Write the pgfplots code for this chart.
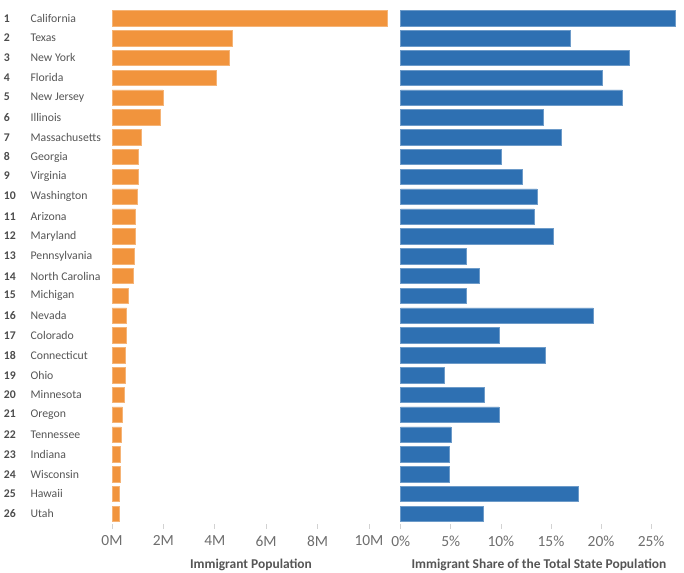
\documentclass[border=0pt]{standalone}
\usepackage{fontspec}
\setmainfont{Carlito}
\usepackage{pgfplots}
\pgfplotsset{compat=1.18}
\usepackage{pgfplotstable}
\definecolor{barorange}{RGB}{241,148,61}
\definecolor{barblue}{RGB}{46,112,178}
\definecolor{txtgray}{RGB}{85,85,85}
\definecolor{tickgray}{RGB}{110,110,110}

\pgfplotstableread{
rank pop share
1 10.70 27.4
2 4.67 16.9
3 4.55 22.8
4 4.07 20.1
5 1.98 22.1
6 1.86 14.2
7 1.13 16.0
8 1.04 10.0
9 1.04 12.1
10 1.00 13.6
11 0.91 13.3
12 0.92 15.2
13 0.87 6.5
14 0.82 7.8
15 0.65 6.5
16 0.57 19.2
17 0.57 9.8
18 0.53 14.4
19 0.52 4.3
20 0.48 8.3
21 0.40 9.8
22 0.36 5.0
23 0.31 4.8
24 0.31 4.8
25 0.27 17.7
26 0.27 8.2
}\datatable

\newcommand{\rl}[2]{\makebox[26.7bp][l]{\bfseries\color{txtgray!90!black}#1}#2}

\pgfplotsset{
  common/.style={
    scale only axis,
    anchor=north west,
    height=515.3bp,
    ymin=0.5, ymax=26.5,
    y dir=reverse,
    xbar, bar width=15.4bp,
    axis line style={draw=none},
    ytick={1,...,26},
    ytick style={draw=none},
    xtick style={draw=gray!35, line width=0.6bp},
    xtick pos=bottom,
    tick align=outside,
    major tick length=5bp,
    xticklabel style={font=\fontsize{15.5}{16}\selectfont, color=tickgray, yshift=-3.5bp},
    xlabel style={font=\bfseries\fontsize{13.5}{14}\selectfont, color=txtgray, yshift=-6bp},
    clip=false,
  }
}

\begin{document}
\begin{tikzpicture}
\useasboundingbox (0,0) rectangle (684bp,573bp);
\begin{axis}[common,
  at={(112bp,564.6bp)},
  width=278bp,
  xmin=0, xmax=10.82,
  xtick={0,2,4,6,8,10},
  xticklabels={0M,2M,4M,6M,8M,10M},
  xlabel={Immigrant Population},
  yticklabel style={anchor=west, xshift=-103.3bp, font=\fontsize{11.8}{12}\selectfont, color=txtgray, inner sep=0pt},
  yticklabels={\rl{1}{California},\rl{2}{Texas},\rl{3}{New York},\rl{4}{Florida},\rl{5}{New Jersey},\rl{6}{Illinois},\rl{7}{Massachusetts},\rl{8}{Georgia},\rl{9}{Virginia},\rl{10}{Washington},\rl{11}{Arizona},\rl{12}{Maryland},\rl{13}{Pennsylvania},\rl{14}{North Carolina},\rl{15}{Michigan},\rl{16}{Nevada},\rl{17}{Colorado},\rl{18}{Connecticut},\rl{19}{Ohio},\rl{20}{Minnesota},\rl{21}{Oregon},\rl{22}{Tennessee},\rl{23}{Indiana},\rl{24}{Wisconsin},\rl{25}{Hawaii},\rl{26}{Utah}},
]
\addplot[fill=barorange, draw=barorange!70!white, line width=0.5bp] table[x=pop, y=rank] {\datatable};
\end{axis}
\begin{axis}[common,
  at={(400.7bp,564.6bp)},
  width=276.5bp,
  xmin=0, xmax=27.6,
  xtick={0,5,10,15,20,25},
  xticklabels={0\%,5\%,10\%,15\%,20\%,25\%},
  xlabel={Immigrant Share of the Total State Population},
  yticklabels={},
]
\addplot[fill=barblue, draw=barblue!70!white, line width=0.5bp] table[x=share, y=rank] {\datatable};
\end{axis}
\end{tikzpicture}
\end{document}
